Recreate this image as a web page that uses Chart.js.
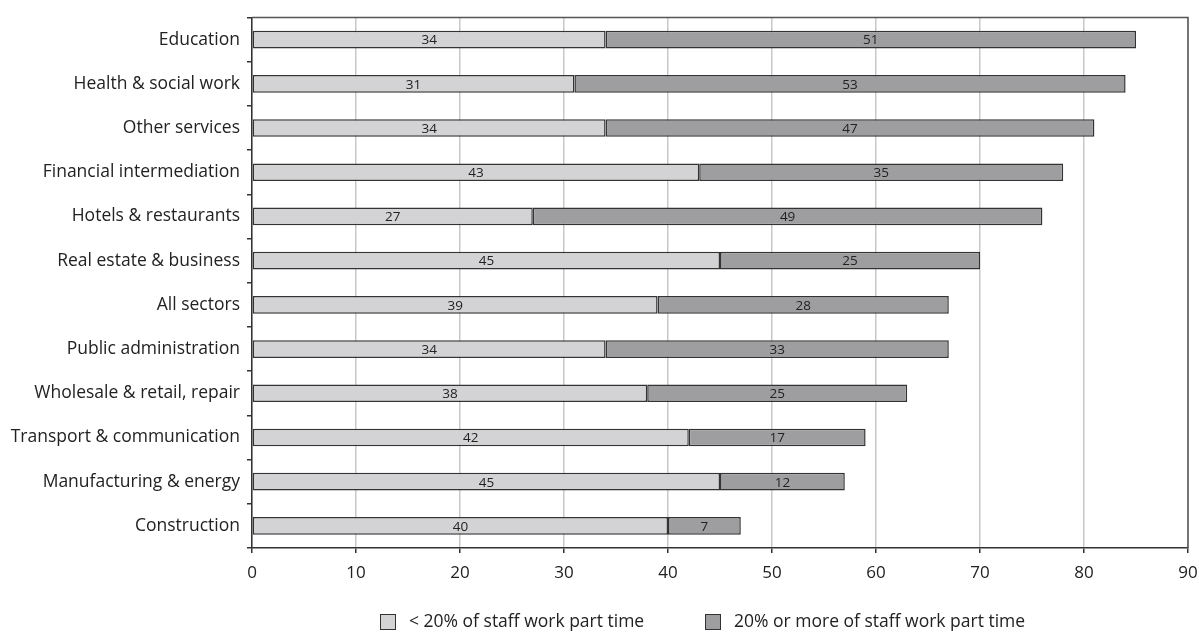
<!DOCTYPE html>
<html>
<head>
<meta charset="utf-8">
<script src="https://cdn.jsdelivr.net/npm/chart.js@4.4.1/dist/chart.umd.min.js"></script>
<style>
  body { margin: 0; background: #fff; }
  canvas { display: block; }
</style>
</head>
<body>
<canvas id="sectorChart" width="1199" height="633"></canvas>
<script>
// Sectors, top to bottom
const sectors = [
    'Education', 'Health & social work', 'Other services', 'Financial intermediation',
    'Hotels & restaurants', 'Real estate & business', 'All sectors', 'Public administration',
    'Wholesale & retail, repair', 'Transport & communication', 'Manufacturing & energy', 'Construction'
];
const under20 = [34, 31, 34, 43, 27, 45, 39, 34, 38, 42, 45, 40];
const over20 = [51, 53, 47, 35, 49, 25, 28, 33, 25, 17, 12, 7];
const seriesNames = ['< 20% of staff work part time', '20% or more of staff work part time'];
const xTicks = [0, 10, 20, 30, 40, 50, 60, 70, 80, 90];

const lightGrey = '#d3d3d5';
const darkGrey = '#9e9ea1';
const edge = '#333333';
const fontFamily = '"Open Sans", sans-serif';

// numbers in the middle of each segment
const segmentLabels = {
    id: 'segmentLabels',
    afterDatasetsDraw(chart) {
        const c = chart.ctx;
        c.save();
        c.font = '13.5px ' + fontFamily;
        c.fillStyle = '#222';
        c.textAlign = 'center';
        c.textBaseline = 'middle';
        chart.data.datasets.forEach((ds, i) => {
            chart.getDatasetMeta(i).data.forEach((bar, j) => {
                c.fillText(ds.data[j], (bar.base + bar.x) / 2, bar.y + 1);
            });
        });
        c.restore();
    }
};

// top/right frame and the legend underneath
const frameAndLegend = {
    id: 'frameAndLegend',
    afterDraw(chart) {
        const c = chart.ctx;
        const a = chart.chartArea;
        c.save();
        c.strokeStyle = '#555';
        c.lineWidth = 1.5;
        c.beginPath();
        c.moveTo(a.left, a.top);
        c.lineTo(a.right, a.top);
        c.lineTo(a.right, a.bottom);
        c.stroke();

        const items = [
            { x: 380, color: lightGrey, text: seriesNames[0] },
            { x: 705, color: darkGrey, text: seriesNames[1] }
        ];
        const y = 622;
        c.font = '17.5px ' + fontFamily;
        c.textBaseline = 'middle';
        c.textAlign = 'left';
        items.forEach(it => {
            c.fillStyle = it.color;
            c.fillRect(it.x, y - 8, 16, 16);
            c.strokeStyle = edge;
            c.lineWidth = 1;
            c.strokeRect(it.x + 0.5, y - 7.5, 15, 15);
            c.fillStyle = '#222';
            c.fillText(it.text, it.x + 29, y);
        });
        c.restore();
    }
};

new Chart(document.getElementById('sectorChart'), {
    type: 'bar',
    data: {
        labels: sectors,
        datasets: [{
            label: seriesNames[0],
            data: under20,
            backgroundColor: lightGrey,
            borderColor: edge,
            borderWidth: 1.5,
            borderSkipped: false
        }, {
            label: seriesNames[1],
            data: over20,
            backgroundColor: darkGrey,
            borderColor: edge,
            borderWidth: 1.5,
            borderSkipped: false
        }]
    },
    options: {
        indexAxis: 'y',
        responsive: false,
        animation: false,
        barPercentage: 0.4,
        categoryPercentage: 1,
        layout: { padding: { top: 16, right: 11, left: 0, bottom: 0 } },
        scales: {
            x: {
                stacked: true,
                min: 0,
                max: 90,
                afterBuildTicks: s => { s.ticks = xTicks.map(v => ({ value: v })); },
                afterFit: s => { s.height = 85; s.paddingRight = 0; s.paddingLeft = 0; },
                grid: { color: '#c8c8c8', lineWidth: 1.5, tickColor: edge, tickLength: 5 },
                border: { color: edge, width: 1.5 },
                ticks: { color: '#222', padding: 10, font: { family: fontFamily, size: 17 } }
            },
            y: {
                stacked: true,
                afterFit: s => { s.width = 252; },
                grid: { offset: true, drawOnChartArea: false, color: edge, tickLength: 5, lineWidth: 1.5 },
                border: { color: edge, width: 1.5 },
                ticks: { color: '#222', padding: 7, font: { family: fontFamily, size: 17.5 } }
            }
        },
        plugins: {
            legend: { display: false },
            tooltip: { enabled: false }
        }
    },
    plugins: [segmentLabels, frameAndLegend]
});
</script>
</body>
</html>
